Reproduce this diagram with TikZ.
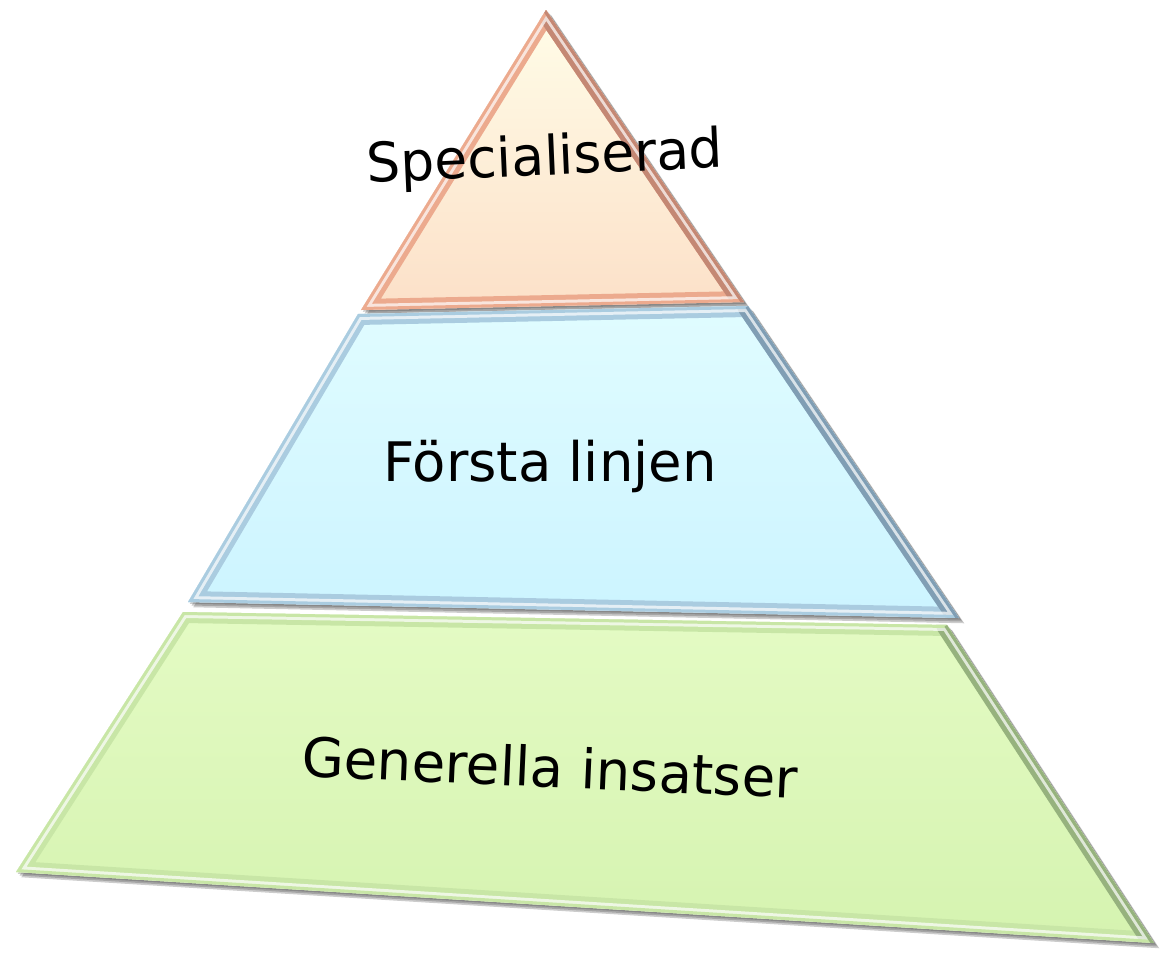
\documentclass[tikz,border=0pt]{standalone}
\usepackage{fontspec}
\setmainfont{DejaVu Sans}
\usetikzlibrary{positioning}
\definecolor{peachtop}{RGB}{255,253,232}
\definecolor{peachbot}{RGB}{252,224,200}
\definecolor{peachline}{RGB}{236,170,142}
\definecolor{peachdark}{RGB}{196,136,116}
\definecolor{skytop}{RGB}{224,252,255}
\definecolor{skybot}{RGB}{204,244,255}
\definecolor{skyline}{RGB}{170,204,224}
\definecolor{skydark}{RGB}{128,158,180}
\definecolor{leaftop}{RGB}{228,251,196}
\definecolor{leafbot}{RGB}{213,243,176}
\definecolor{leafline}{RGB}{200,230,166}
\definecolor{leafdark}{RGB}{150,178,126}
\tikzset{tierline/.style = {line width=12.5pt, line join=round, draw=#1},
         edgedark/.style = {line width=12.5pt, line cap=round, draw=#1},
         shine/.style = {draw=white, line width=6.8pt, line join=round, opacity=.7},
         bevel/.style = {line width=3.4pt, line join=round, draw=#1},
         dropshadow/.style = {fill=black!80, opacity=.25,
                              transform canvas={xshift=#1, yshift=-#1}},
         tiertext/.style = {font=\fontsize{31}{37}\selectfont, inner sep=0pt}}

\begin{document}
\begin{tikzpicture}[x=0.02cm, y=-0.02cm]
    \useasboundingbox (0,0) rectangle (1164,954);

    % corners of the three tiers
    \coordinate (s1) at (546, 10);
    \coordinate (s2) at (361,310);
    \coordinate (s3) at (744,302);

    \coordinate (f1) at (358,314);
    \coordinate (f2) at (748,306);
    \coordinate (f3) at (959,618);
    \coordinate (f4) at (188,602);

    \coordinate (g1) at (183,612);
    \coordinate (g2) at (947,625);
    \coordinate (g3) at (1154,943);
    \coordinate (g4) at ( 16,872);

    % shadows
    \foreach \d in {1pt,2pt,3pt} {
        \fill[dropshadow=\d] (s1) -- (s2) -- (s3) -- cycle;
        \fill[dropshadow=\d] (f1) -- (f2) -- (f3) -- (f4) -- cycle;
        \fill[dropshadow=\d] (g1) -- (g2) -- (g3) -- (g4) -- cycle;
    }

    % bottom tier
    \begin{scope}
        \clip (g1) -- (g2) -- (g3) -- (g4) -- cycle;
        \shade[top color=leaftop, bottom color=leafbot] (g1) -- (g2) -- (g3) -- (g4) -- cycle;
        \draw[tierline=leafline] (g1) -- (g2) -- (g3) -- (g4) -- cycle;
        \draw[edgedark=leafdark] (g2) -- (g3);
        \draw[shine] (g1) -- (g2) -- (g3) -- (g4) -- cycle;
        \draw[bevel=leafline] (g1) -- (g2) -- (g3) -- (g4) -- cycle;
        \draw[bevel=leafdark] (g2) -- (g3);
    \end{scope}

    % middle tier
    \begin{scope}
        \clip (f1) -- (f2) -- (f3) -- (f4) -- cycle;
        \shade[top color=skytop, bottom color=skybot] (f1) -- (f2) -- (f3) -- (f4) -- cycle;
        \draw[tierline=skyline] (f1) -- (f2) -- (f3) -- (f4) -- cycle;
        \draw[edgedark=skydark] (f2) -- (f3);
        \draw[shine] (f1) -- (f2) -- (f3) -- (f4) -- cycle;
        \draw[bevel=skyline] (f1) -- (f2) -- (f3) -- (f4) -- cycle;
        \draw[bevel=skydark] (f2) -- (f3);
    \end{scope}

    % top tier
    \begin{scope}
        \clip (s1) -- (s2) -- (s3) -- cycle;
        \shade[top color=peachtop, bottom color=peachbot] (s1) -- (s2) -- (s3) -- cycle;
        \draw[tierline=peachline] (s1) -- (s2) -- (s3) -- cycle;
        \draw[edgedark=peachdark] (s1) -- (s3);
        \draw[shine] (s1) -- (s2) -- (s3) -- cycle;
        \draw[bevel=peachline] (s1) -- (s2) -- (s3) -- cycle;
        \draw[bevel=peachdark] (s1) -- (s3);
    \end{scope}

    % labels
    \node[tiertext, rotate=2.5, xscale=.98] (spec) at (545,160) {Specialiserad};
    \node[tiertext] (forsta) at (550,466) {Första linjen};
    \node[tiertext, rotate=-2.5] (gen) at (550,767) {Generella insatser};
\end{tikzpicture}
\end{document}
